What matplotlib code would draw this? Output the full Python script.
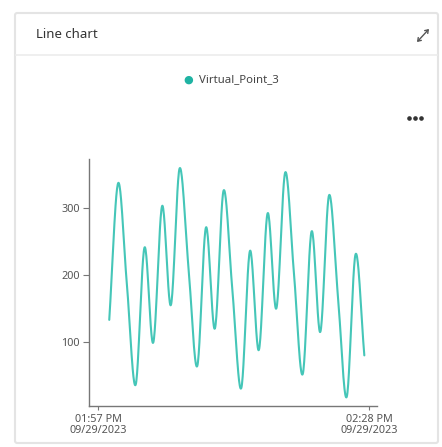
import numpy as np
import matplotlib
matplotlib.use("Agg")
import matplotlib.pyplot as plt
import matplotlib.dates as mdates
from matplotlib.patches import FancyBboxPatch, FancyArrowPatch
from matplotlib.lines import Line2D
from datetime import datetime

plt.rcParams['font.family'] = ['Noto Sans', 'DejaVu Sans']

# ---- data ----
date_str = "2023-09-29"
times = ["13:58:17", "13:59:18", "14:00:18", "14:01:18", "14:02:19", "14:03:19",
         "14:04:20", "14:05:20", "14:06:20", "14:07:21", "14:08:21", "14:09:21",
         "14:10:22", "14:11:22", "14:12:22", "14:13:23", "14:14:23", "14:15:24",
         "14:16:24", "14:17:24", "14:18:25", "14:19:25", "14:20:25", "14:21:26",
         "14:22:26", "14:23:26", "14:24:27", "14:25:27", "14:26:28", "14:27:28"]
values = [133, 337, 186, 36, 241, 99, 303, 155, 359, 211, 64, 271, 120, 326, 178,
          31, 236, 88, 292, 150, 353, 202, 52, 265, 115, 319, 168, 18, 231, 80]
series_name = "Virtual_Point_3"
title = "Line chart"
y_ticks = [100, 200, 300]
x_tick_times = ["13:57:00", "14:28:00"]
x_tick_labels = ["01:57 PM\n09/29/2023", "02:28 PM\n09/29/2023"]


def to_num(t):
    return mdates.date2num(datetime.strptime(date_str + " " + t, "%Y-%m-%d %H:%M:%S"))


def catmull_rom(x, y, n=24):
    x = np.asarray(x, float)
    y = np.asarray(y, float)
    px = np.concatenate([[2 * x[0] - x[1]], x, [2 * x[-1] - x[-2]]])
    py = np.concatenate([[2 * y[0] - y[1]], y, [2 * y[-1] - y[-2]]])
    xs, ys = [], []
    t = np.linspace(0, 1, n, endpoint=False)
    h00 = 2 * t**3 - 3 * t**2 + 1
    h10 = t**3 - 2 * t**2 + t
    h01 = -2 * t**3 + 3 * t**2
    h11 = t**3 - t**2
    for i in range(1, len(px) - 2):
        mx0 = (px[i + 1] - px[i - 1]) / 2
        mx1 = (px[i + 2] - px[i]) / 2
        my0 = (py[i + 1] - py[i - 1]) / 2
        my1 = (py[i + 2] - py[i]) / 2
        xs.append(h00 * px[i] + h10 * mx0 + h01 * px[i + 1] + h11 * mx1)
        ys.append(h00 * py[i] + h10 * my0 + h01 * py[i + 1] + h11 * my1)
    xs.append([x[-1]])
    ys.append([y[-1]])
    return np.concatenate(xs), np.concatenate(ys)


W, H = 442, 447
fig = plt.figure(figsize=(W / 100, H / 100), dpi=100)
fig.patch.set_facecolor("white")

# card
card = FancyBboxPatch((15 / W, (H - 443) / H), (438 - 15) / W, (443 - 13) / H,
                      boxstyle="round,pad=0,rounding_size=0.005",
                      transform=fig.transFigure, facecolor="none",
                      edgecolor="#e4e4e4", linewidth=1.5, zorder=-5)
fig.add_artist(card)
fig.add_artist(Line2D([16 / W, 437 / W], [(H - 55) / H] * 2, transform=fig.transFigure,
                      color="#ececec", linewidth=1.2, zorder=-5))

fig.text(36 / W, (H - 35) / H, title, fontsize=9.5, color="#333333", va="center", ha="left")
# expand icon
fig.add_artist(FancyArrowPatch(
    (417 / W, (H - 42) / H), (429 / W, (H - 29) / H), transform=fig.transFigure,
    arrowstyle="<->,head_length=0.35,head_width=0.25", color="#555555", linewidth=1.0,
    mutation_scale=6, shrinkA=0, shrinkB=0))
# more-options dots
fig.add_artist(Line2D([409 / W, 415 / W, 421 / W], [(H - 118) / H] * 3,
                      transform=fig.transFigure, linestyle="none", marker="o",
                      markersize=2.3, color="#333333"))

# legend
fig.text(188 / W, (H - 80) / H, "●", fontsize=8, color="#1fb3a3", va="center", ha="center")
fig.text(199 / W, (H - 80) / H, series_name, fontsize=8.2, color="#444444", va="center", ha="left")

# axes
ax = fig.add_axes([89 / W, (H - 406) / H, (377 - 89) / W, (406 - 159) / H])
ax.set_facecolor("none")
xn = [to_num(t) for t in times]
xs, ys = catmull_rom(xn, values)
ax.plot(xs, ys, color="#45c6b8", linewidth=1.5, solid_capstyle="round")

ax.set_xlim(to_num("13:55:58"), to_num("14:28:55"))
ax.set_ylim(4.5, 373)
ax.set_yticks(y_ticks)
ax.set_yticklabels([str(v) for v in y_ticks])
ax.set_xticks([to_num(t) for t in x_tick_times])
ax.set_xticklabels(x_tick_labels, linespacing=1.0)

for side in ["top", "right"]:
    ax.spines[side].set_visible(False)
for side in ["left", "bottom"]:
    ax.spines[side].set_color("#777777")
    ax.spines[side].set_linewidth(1.0)
ax.tick_params(axis="y", length=4, width=0.8, color="#777777", labelsize=7.8,
               labelcolor="#555555", pad=2.5)
ax.tick_params(axis="x", length=3, width=0.8, color="#777777", labelsize=7.8,
               labelcolor="#555555", pad=3)

fig.savefig("out.png", dpi=100, facecolor="white")
